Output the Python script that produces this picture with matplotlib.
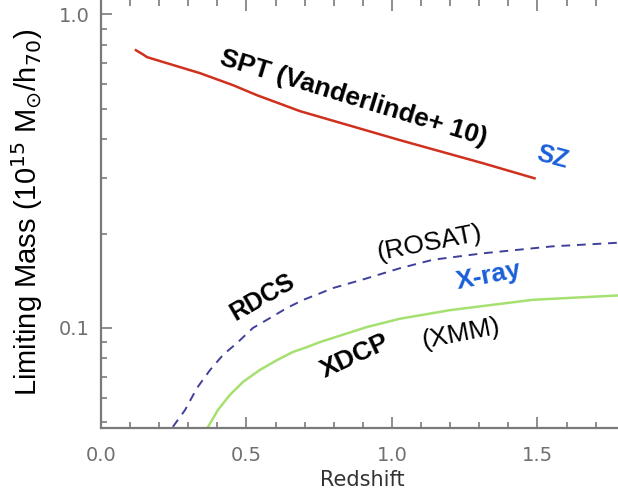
import matplotlib
matplotlib.use("Agg")
import matplotlib.pyplot as plt
from matplotlib.ticker import FixedLocator, NullFormatter

plt.rcParams["font.family"] = ["Liberation Sans", "DejaVu Sans"]

# SPT (Vanderlinde+ 10) selection limit
spt_z = [0.12, 0.144, 0.158, 0.227, 0.340, 0.454, 0.536, 0.684, 1.027, 1.313, 1.49]
spt_m = [0.768, 0.745, 0.730, 0.698, 0.649, 0.594, 0.552, 0.491, 0.397, 0.335, 0.30]

# RDCS (ROSAT)
rdcs_z = [0.247, 0.289, 0.330, 0.375, 0.419, 0.471, 0.522, 0.581, 0.639, 0.694,
          0.753, 0.797, 0.914, 1.027, 1.141, 1.313, 1.55, 1.78]
rdcs_m = [0.0484, 0.0548, 0.0644, 0.0735, 0.082, 0.0902, 0.100, 0.1076, 0.1158, 0.1228,
          0.129, 0.134, 0.144, 0.155, 0.165, 0.173, 0.182, 0.187]

# XDCP (XMM)
xdcp_z = [0.368, 0.402, 0.443, 0.488, 0.546, 0.605, 0.660, 0.708, 0.753, 0.914,
          1.027, 1.2, 1.485, 1.78]
xdcp_m = [0.0484, 0.0548, 0.0612, 0.0673, 0.0735, 0.079, 0.0839, 0.0869, 0.0902, 0.1007,
          0.107, 0.114, 0.123, 0.127]

x_ticks = [0.0, 0.5, 1.0, 1.5]
y_ticks = [0.1, 1.0]
y_minor = [0.05, 0.06, 0.07, 0.08, 0.09, 0.2, 0.3, 0.4, 0.5, 0.6, 0.7, 0.8, 0.9]

RED = "#d0301e"
NAVY = "#40409c"
GREEN = "#a6e070"
BLUE = "#1a5fd8"
AXIS_GRAY = "#7a7a7a"
TICK_TEXT = "#707070"

W, H = 618, 497
fig = plt.figure(figsize=(W / 100, H / 100), dpi=100)
ax = fig.add_axes([101 / W, 69 / H, 517 / W, 428 / H])

ax.plot(spt_z, spt_m, color=RED, linewidth=1.8, solid_joinstyle="round")
ax.plot(rdcs_z, rdcs_m, color=NAVY, linewidth=1.4, linestyle=(0, (4.5, 3.5)))
ax.plot(xdcp_z, xdcp_m, color=GREEN, linewidth=1.8, solid_joinstyle="round")

ax.set_yscale("log")
ax.set_xlim(0, 1.777)
ax.set_ylim(0.048, 1.11)

ax.xaxis.set_major_locator(FixedLocator(x_ticks))
ax.xaxis.set_minor_locator(FixedLocator([i / 10 for i in range(18)]))
ax.yaxis.set_major_locator(FixedLocator(y_ticks))
ax.yaxis.set_minor_locator(FixedLocator(y_minor))
ax.yaxis.set_minor_formatter(NullFormatter())
ax.set_xticklabels([f"{t:.1f}" for t in x_ticks], family="DejaVu Sans")
ax.set_yticklabels([f"{t:.1f}" for t in y_ticks], family="DejaVu Sans")

ax.tick_params(which="both", direction="in", color=AXIS_GRAY, width=1.2,
               top=True, right=False, labelsize=14, labelcolor=TICK_TEXT)
ax.tick_params(which="major", length=8)
ax.tick_params(which="minor", length=4.5)
ax.tick_params(axis="x", which="major", pad=13)
ax.tick_params(axis="y", which="major", pad=8)

for side in ["left", "bottom"]:
    ax.spines[side].set_color(AXIS_GRAY)
    ax.spines[side].set_linewidth(1.6)
for side in ["top", "right"]:
    ax.spines[side].set_visible(False)

fig.text(362 / W, 1 - 480 / H, "Redshift", family="DejaVu Sans", fontsize=15,
         color="#333333", ha="center", va="center")
fig.text(27 / W, 1 - 212 / H, r"Limiting Mass (10$^{15}$ M$_{\odot}$/h$_{70}$)",
         rotation=90, ha="center", va="center", fontsize=21)


def label(px, py, s, rot, **kw):
    fig.text(px / W, 1 - py / H, s, rotation=rot, ha="center", va="center",
             rotation_mode="anchor", **kw)


label(353, 98, "SPT (Vanderlinde+ 10)", -17, fontsize=19, fontweight="bold")
label(553, 157, "SZ", -15, fontsize=18, fontweight="bold", color=BLUE)
label(429, 243, "(ROSAT)", 11, fontsize=19)
label(262, 297, "RDCS", 30, fontsize=18, fontweight="bold")
label(489, 276, "X-ray", 11, fontsize=19, fontweight="bold", color=BLUE)
label(355, 356, "XDCP", 25, fontsize=19, fontweight="bold")
label(461, 334, "(XMM)", 11, fontsize=19)

fig.savefig("out.png", dpi=100)
